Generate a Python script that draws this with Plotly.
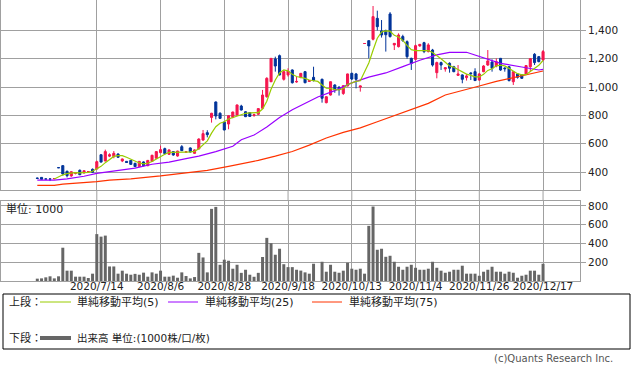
import plotly.graph_objects as go

W, H = 633, 373

# ---------------- data ----------------
bar_index = list(range(120))

opens = [357, 362, 351, 351, 352, 431, 445, 405, 372, 390, 412, 393, 402, 419, 421, 522, 478, 512, 508, 527,
         478, 475, 482, 461, 438, 471, 445, 475, 497, 537, 565, 525, 544, 513, 579, 540, 570, 532, 563, 626,
         678, 786, 895, 815, 753, 739, 786, 803, 866, 826, 820, 800, 808, 850, 932, 1038, 1199, 1222, 1055, 1086,
         1121, 1036, 1069, 1109, 1040, 1069, None, 1055, 890, 944, 1015, 1000, 955, 1008, 1097, 1093, 1000, 1308, 1328, 1338,
         1486, 1397, 1400, 1517, 1298, 1286, 1357, 1321, 1203, 1196, 1291, 1314, 1251, 1262, 1102, 1173, 1128, 1168, 1144, 1083,
         1086, 1067, 1100, 1109, 1050, 1109, 1156, 1177, 1149, 1203, 1135, 1144, 1038, 1093, 1086, 1093, 1144, 1232, 1215, 1192]
highs = [360, 364, 353, 352, 356, 433, 447, 410, 405, 400, 418, 412, 404, 425, 480, 525, 558, 532, 548, 532,
         495, 478, 485, 466, 478, 475, 485, 522, 548, 586, 572, 560, 548, 550, 590, 546, 574, 560, 638, 697,
         695, 818, 898, 822, 757, 800, 826, 876, 875, 830, 824, 812, 850, 980, 1070, 1205, 1215, 1230, 1120, 1133,
         1125, 1074, 1100, 1114, 1050, 1144, None, 1060, 935, 1040, 1020, 1005, 1013, 1095, 1102, 1100, 1010, 1308, 1330, 1573,
         1540, 1474, 1406, 1530, 1310, 1380, 1370, 1330, 1208, 1300, 1305, 1320, 1310, 1270, 1180, 1180, 1140, 1175, 1150, 1156,
         1090, 1093, 1105, 1133, 1100, 1155, 1262, 1196, 1203, 1206, 1140, 1148, 1112, 1097, 1090, 1156, 1203, 1240, 1220, 1262]
lows = [352, 346, 349, 336, 350, 428, 374, 362, 366, 383, 378, 390, 398, 395, 418, 468, 475, 505, 497, 500,
        470, 465, 450, 435, 435, 440, 440, 472, 494, 533, 525, 520, 515, 508, 548, 535, 538, 528, 560, 620,
        645, 749, 772, 775, 695, 702, 780, 798, 835, 788, 789, 790, 803, 845, 925, 1035, 1109, 1083, 1046, 1074,
        1025, 1031, 1062, 1027, 1036, 1040, None, 890, 885, 940, 960, 940, 945, 1005, 1050, 991, 968, 1308, 1203, 1330,
        1400, 1350, 1251, 1350, 1262, 1280, 1320, 1200, 1121, 1190, 1285, 1240, 1245, 1145, 1062, 1121, 1109, 1102, 1105, 1079,
        1027, 1046, 1050, 1043, 1045, 1105, 1150, 1109, 1140, 1115, 1109, 1040, 1015, 1060, 1058, 1088, 1109, 1156, 1175, 1185]
closes = [355, 348, 350, 350, 354, 430, 386, 374, 402, 396, 381, 409, 403, 398, 473, 470, 544, 522, 532, 504,
          492, 468, 454, 438, 475, 445, 482, 518, 544, 558, 530, 556, 520, 548, 551, 543, 541, 556, 633, 671,
          664, 815, 796, 779, 697, 798, 824, 874, 838, 791, 793, 805, 848, 944, 1062, 1203, 1149, 1086, 1109, 1114,
          1031, 1040, 1097, 1031, 1046, 1046, None, 921, 932, 1038, 980, 982, 1010, 1093, 1057, 1055, 1008, 1308, 1291, 1498,
          1427, 1368, 1370, 1357, 1309, 1368, 1330, 1215, 1168, 1293, 1302, 1251, 1298, 1156, 1173, 1156, 1137, 1133, 1109, 1093,
          1055, 1079, 1095, 1046, 1093, 1149, 1185, 1133, 1180, 1121, 1130, 1046, 1109, 1069, 1062, 1152, 1201, 1173, 1180, 1251]
volumes = [25, 28, 39, 50, 28, 50, 355, 110, 110, 46, 46, 46, 32, 78, 500, 473, 484, 155, 155, 78,
           110, 78, 67, 76, 67, 89, 46, 92, 78, 110, 46, 46, 57, 35, 92, 53, 28, 42, 300, 251,
           92, 769, 790, 173, 227, 216, 131, 173, 87, 120, 67, 45, 87, 256, 460, 403, 280, 344, 179, 148,
           148, 120, 111, 92, 78, 184, 0, 205, 99, 173, 99, 88, 110, 195, 131, 120, 131, 78, 588, 794,
           333, 344, 258, 269, 205, 152, 120, 152, 173, 141, 120, 120, 131, 205, 141, 110, 88, 99, 120, 120,
           163, 78, 78, 78, 56, 99, 120, 152, 99, 99, 78, 99, 88, 35, 56, 67, 110, 110, 67, 184]

ma5_index = list(range(4, 120))
ma5 = [351, 366, 380, 388, 392, 395, 394, 394, 398, 405, 420, 440, 466, 490, 510, 516, 516, 504, 490, 473,
       464, 458, 462, 474, 493, 510, 526, 538, 540, 540, 540, 541, 542, 546, 565, 592, 620, 675, 720, 745,
       755, 775, 785, 796, 806, 815, 818, 818, 820, 845, 900, 985, 1050, 1100, 1122, 1115, 1090, 1075, 1070, 1062,
       1050, 1045, 1040, 1015, 992, 990, 982, 980, 990, 1018, 1030, 1040, 1045, 1110, 1170, 1260, 1345, 1390, 1397, 1395,
       1366, 1354, 1330, 1295, 1265, 1258, 1257, 1255, 1258, 1245, 1225, 1200, 1176, 1150, 1140, 1125, 1106, 1092, 1083, 1072,
       1072, 1090, 1118, 1130, 1150, 1155, 1150, 1130, 1115, 1095, 1086, 1088, 1110, 1135, 1154, 1188]

ma25_index = [0, 4, 7, 11, 14, 17, 20, 23, 27, 31, 35, 38, 42, 46, 48, 51, 54, 57, 60, 63, 66, 70, 74, 78,
              82, 86, 90, 94, 97, 101, 104, 109, 114, 118, 119]
ma25 = [343, 343, 351, 370, 390, 404, 418, 427, 455, 470, 495, 512, 544, 582, 628, 661, 718, 785, 840, 885,
        930, 975, 1030, 1070, 1100, 1145, 1190, 1228, 1246, 1246, 1215, 1168, 1142, 1121, 1125]

ma75_index = [0, 4, 6, 11, 14, 17, 22, 29, 35, 40, 45, 48, 52, 56, 60, 64, 68, 72, 76, 80, 84, 88, 92, 96,
              100, 104, 108, 112, 116, 119]
ma75 = [306, 306, 314, 324, 332, 342, 352, 372, 393, 412, 440, 458, 482, 512, 545, 590, 640, 680, 712, 755,
        800, 845, 885, 944, 978, 1008, 1040, 1065, 1090, 1114]

date_ticks = [14, 29, 44, 59, 74, 89, 104, 119]
date_labels = ["2020/7/14", "2020/8/6", "2020/8/28", "2020/9/18", "2020/10/13", "2020/11/4", "2020/11/26", "2020/12/17"]
price_ticks = [400, 600, 800, 1000, 1200, 1400]
price_labels = ["400", "600", "800", "1,000", "1,200", "1,400"]
vol_ticks = [200, 400, 600, 800]
vol_labels = ["200", "400", "600", "800"]

# ---------------- styles ----------------
RED = "#f5164e"
BLUE = "#003399"
C_MA5 = "#99cc00"
C_MA25 = "#9900ff"
C_MA75 = "#ff3300"
C_VOL = "#666666"
GRID = "#a0a0a0"
FONT = "DejaVu Sans, Noto Sans CJK JP, sans-serif"


def px(x):
    return x / W


def py(y):
    return 1 - y / H


X0, X1 = 1, 580
PX_PER_BAR = 4.25
FIRST_BAR_PX = 37.3
x_range = [(X0 - FIRST_BAR_PX) / PX_PER_BAR, (X1 - FIRST_BAR_PX) / PX_PER_BAR]

fig = go.Figure()

fig.add_trace(go.Candlestick(
    x=bar_index, open=opens, high=highs, low=lows, close=closes,
    xaxis="x", yaxis="y", whiskerwidth=0,
    increasing=dict(line=dict(color=RED, width=1), fillcolor=RED),
    decreasing=dict(line=dict(color=BLUE, width=1), fillcolor=BLUE),
    showlegend=False, hoverinfo="skip",
))
for xs, ys, col in [(ma75_index, ma75, C_MA75), (ma25_index, ma25, C_MA25), (ma5_index, ma5, C_MA5)]:
    fig.add_trace(go.Scatter(x=xs, y=ys, mode="lines", line=dict(color=col, width=1.2),
                             xaxis="x", yaxis="y", showlegend=False, hoverinfo="skip"))

fig.add_trace(go.Bar(x=bar_index, y=volumes, xaxis="x2", yaxis="y2", width=0.7,
                     marker=dict(color=C_VOL, line=dict(width=0)), showlegend=False, hoverinfo="skip"))

axis_common = dict(showline=True, mirror=True, linecolor=GRID, linewidth=1,
                   showgrid=True, gridcolor=GRID, gridwidth=1, zeroline=False)

fig.update_layout(
    width=W, height=H,
    margin=dict(l=0, r=0, t=0, b=0),
    paper_bgcolor="white", plot_bgcolor="white",
    font=dict(family=FONT, size=11, color="#222"),
    xaxis=dict(domain=[px(X0), px(X1)], range=x_range, tickvals=date_ticks, showticklabels=False,
               ticks="", rangeslider=dict(visible=False), anchor="y", **axis_common),
    yaxis=dict(domain=[py(190), py(0)], range=[272.8, 1615.5], side="right", anchor="x",
               tickvals=price_ticks, ticktext=price_labels, ticks="outside", ticklen=5, tickcolor=GRID,
               tickfont=dict(size=10.5, color="#222"), **axis_common),
    xaxis2=dict(domain=[px(X0), px(X1)], range=x_range, tickvals=date_ticks, ticktext=date_labels,
                ticks="", tickangle=0, ticklabelstandoff=-5, anchor="y2",
                tickfont=dict(size=10.5, color="#222"), **axis_common),
    yaxis2=dict(domain=[py(281), py(201)], range=[0, 853], side="right", anchor="x2",
                tickvals=vol_ticks, ticktext=vol_labels, ticks="outside", ticklen=5, tickcolor=GRID,
                tickfont=dict(size=10.5, color="#222"), **axis_common),
    bargap=0.3,
)

shapes = []
# vertical grid through the gap between the panels
for t in date_ticks:
    shapes.append(dict(type="line", xref="x", yref="paper", x0=t, x1=t, y0=py(201), y1=py(190),
                       line=dict(color=GRID, width=1)))
# legend box
shapes.append(dict(type="rect", xref="paper", yref="paper", x0=px(3), x1=px(630), y0=py(349), y1=py(294),
                   line=dict(color="#000", width=1)))
for x0, x1, col in [(40, 71, C_MA5), (168, 198, C_MA25), (312, 342, C_MA75)]:
    shapes.append(dict(type="line", xref="paper", yref="paper", x0=px(x0), x1=px(x1), y0=py(302), y1=py(302),
                       line=dict(color=col, width=1)))
shapes.append(dict(type="line", xref="paper", yref="paper", x0=px(40), x1=px(71), y0=py(338), y1=py(338),
                   line=dict(color=C_VOL, width=4)))
fig.update_layout(shapes=shapes)

annotations = []


def label(text, x, y, anchor="left", size=11, color="#222"):
    annotations.append(dict(text=text, x=px(x), y=py(y), xref="paper", yref="paper", showarrow=False,
                            xanchor=anchor, yanchor="middle", font=dict(size=size, color=color, family=FONT)))


label("単位: 1000", 4, 209)
label("上段：", 7, 302)
label("単純移動平均(5)", 75, 302)
label("単純移動平均(25)", 203, 302)
label("単純移動平均(75)", 347, 302)
label("下段：", 7, 338)
label("出来高 単位:(1000株/口/枚)", 75, 338, size=10.5)
label("(c)Quants Research Inc.", 615, 358, anchor="right", size=10, color="#555")
fig.update_layout(annotations=annotations)

fig.write_html("out.html", config={"displayModeBar": False, "staticPlot": True},
               post_script="document.body.style.margin='0px';document.body.style.overflow='hidden';")
